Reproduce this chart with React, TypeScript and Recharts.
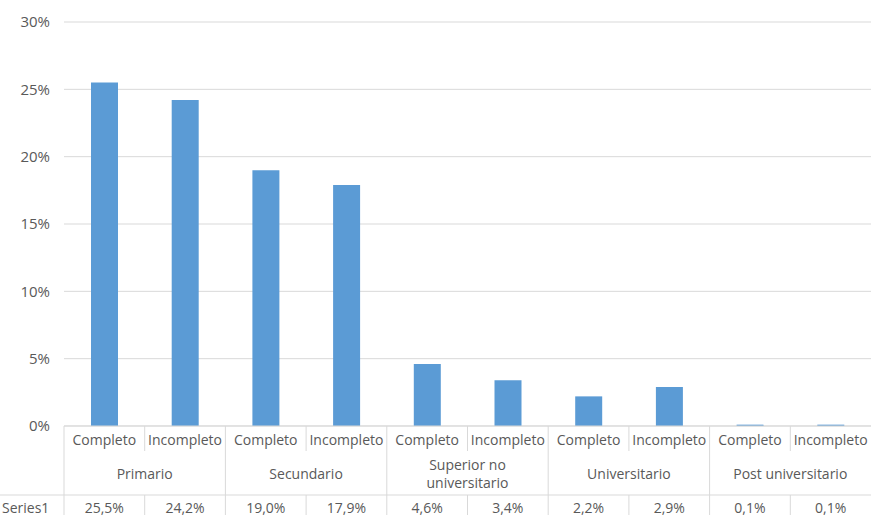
import { BarChart, Bar, XAxis, YAxis, CartesianGrid } from "recharts";

const levels = [
  ["Primario"],
  ["Secundario"],
  ["Superior no", "universitario"],
  ["Universitario"],
  ["Post universitario"],
];
const subCats = ["Completo", "Incompleto"];
const values = [25.5, 24.2, 19.0, 17.9, 4.6, 3.4, 2.2, 2.9, 0.1, 0.1];
const yTicks = [0, 5, 10, 15, 20, 25, 30];
const seriesName = "Series1";

const data = values.map((v, i) => ({
  key: `c${i}`,
  sub: subCats[i % 2],
  group: Math.floor(i / 2),
  value: v,
}));

const W = 871;
const H = 515;
const LEFT = 64;
const TOP = 22;
const AXIS_H = 89;
const BOTTOM = H - AXIS_H; // 426
const COL = (W - LEFT) / data.length;
const LINE = "#D9D9D9";
const TEXT = "#595959";
const FONT = "'Open Sans', sans-serif";

const fmt = (v: number) => v.toFixed(1).replace(".", ",") + "%";

function TableTick(props: any) {
  const { x, payload } = props;
  const i = payload.index;
  const d = data[i];
  const left = x - COL / 2;
  const right = x + COL / 2;
  const isGroupStart = i % 2 === 0;
  const lines = levels[d.group];
  return (
    <g fontFamily={FONT} fontSize={14} fill={TEXT}>
      <text x={x} y={439} textAnchor="middle" dominantBaseline="central">
        {d.sub}
      </text>
      <text x={x} y={507} textAnchor="middle" dominantBaseline="central">
        {fmt(d.value)}
      </text>
      {isGroupStart ? (
        <>
          <line x1={left} y1={BOTTOM} x2={left} y2={H} stroke={LINE} />
          {lines.map((t, k) => (
            <text
              key={k}
              x={right}
              y={473 + (k - (lines.length - 1) / 2) * 18}
              textAnchor="middle"
              dominantBaseline="central"
            >
              {t}
            </text>
          ))}
        </>
      ) : (
        <>
          <line x1={left} y1={BOTTOM} x2={left} y2={451} stroke={LINE} />
          <line x1={left} y1={495} x2={left} y2={H} stroke={LINE} />
        </>
      )}
      {i === 0 && (
        <>
          <line x1={0} y1={495} x2={W} y2={495} stroke={LINE} />
          <text x={2} y={507} textAnchor="start" dominantBaseline="central">
            {seriesName}
          </text>
        </>
      )}
    </g>
  );
}

export default function App() {
  return (
    <div style={{ width: W, height: H, background: "#fff" }}>
      <style>{"body{margin:0}"}</style>
      <BarChart
        width={W}
        height={H}
        data={data}
        margin={{ top: TOP, right: 0, left: 0, bottom: 0 }}
      >
        <CartesianGrid vertical={false} stroke={LINE} strokeWidth={1} />
        <XAxis
          dataKey="key"
          height={AXIS_H}
          interval={0}
          tickLine={false}
          axisLine={{ stroke: LINE }}
          tick={<TableTick />}
        />
        <YAxis
          width={LEFT}
          domain={[0, 30]}
          ticks={yTicks}
          tickFormatter={(v) => `${v}%`}
          axisLine={false}
          tickLine={false}
          tickMargin={8}
          tick={{ fontSize: 15, fill: TEXT, fontFamily: FONT }}
        />
        <Bar dataKey="value" fill="#5B9BD5" barSize={27} isAnimationActive={false} />
      </BarChart>
    </div>
  );
}
